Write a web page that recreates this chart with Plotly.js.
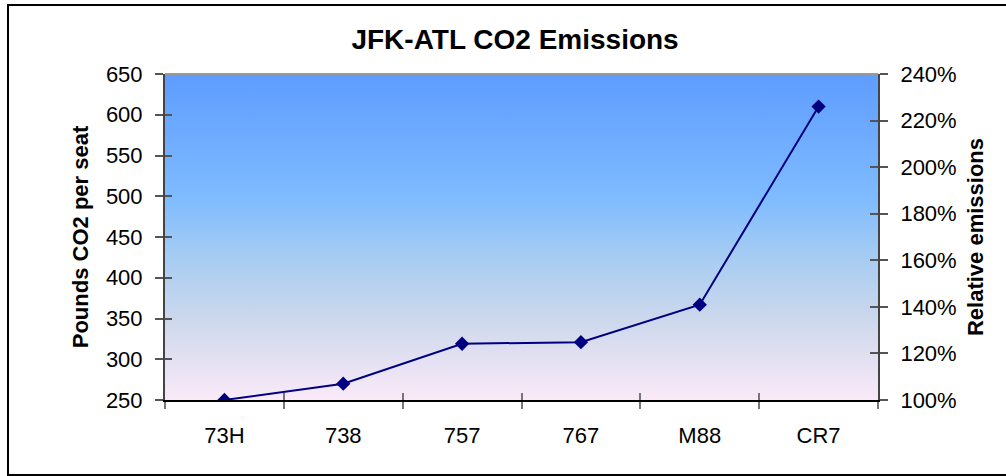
<!DOCTYPE html>
<html>
<head>
<meta charset="utf-8">
<script src="https://cdn.plot.ly/plotly-3.0.1.min.js"></script>
<style>
  html, body { margin: 0; padding: 0; background: #fff; overflow: hidden; }
  #chart { position: absolute; left: 0; top: 0; width: 1006px; height: 476px; }
  #frame { position: absolute; left: 7px; top: 4px; width: 1010px; height: 468px;
           border: 2px solid #000; pointer-events: none; box-sizing: content-box; }
</style>
</head>
<body>
<div id="chart"></div>
<div id="frame"></div>
<script>
// ---- data ----
const aircraft = ["73H", "738", "757", "767", "M88", "CR7"];
const poundsCO2PerSeat = [250, 270, 319, 321, 367, 610];
const leftTicks = [250, 300, 350, 400, 450, 500, 550, 600, 650];
const rightTicks = [100, 120, 140, 160, 180, 200, 220, 240];

const relativeEmissions = poundsCO2PerSeat.map(v => v / poundsCO2PerSeat[0] * 100);

const FONT = "Liberation Sans, Arial, sans-serif";
const tickFont = {family: FONT, size: 22, color: "#000"};
const axisTitleFont = {family: FONT, size: 22, color: "#000", weight: "bold"};

const gradSvg =
  '<svg xmlns="http://www.w3.org/2000/svg" width="100" height="100" preserveAspectRatio="none">' +
  '<defs><linearGradient id="g" x1="0" y1="0" x2="0" y2="1">' +
  '<stop offset="0" stop-color="rgb(94,156,255)"/>' +
  '<stop offset="0.38" stop-color="rgb(127,187,255)"/>' +
  '<stop offset="0.56" stop-color="rgb(166,204,242)"/>' +
  '<stop offset="0.76" stop-color="rgb(206,216,236)"/>' +
  '<stop offset="1" stop-color="rgb(250,234,248)"/>' +
  '</linearGradient></defs><rect width="100" height="100" fill="url(#g)"/></svg>';
const gradUri = "data:image/svg+xml;charset=utf-8," + encodeURIComponent(gradSvg);

const traces = [
  {
    x: aircraft, y: poundsCO2PerSeat, xaxis: "x", yaxis: "y",
    type: "scatter", mode: "lines+markers",
    line: {color: "#000080", width: 2},
    marker: {symbol: "diamond", size: 11, color: "#000080"},
    hoverinfo: "x+y", showlegend: false
  },
  {
    x: aircraft, y: relativeEmissions, xaxis: "x", yaxis: "y2",
    type: "scatter", mode: "markers", marker: {opacity: 0},
    hoverinfo: "skip", showlegend: false
  },
  {
    x: aircraft, y: poundsCO2PerSeat, xaxis: "x2", yaxis: "y3",
    type: "scatter", mode: "markers", marker: {opacity: 0},
    hoverinfo: "skip", showlegend: false
  },
  {
    x: aircraft, y: relativeEmissions, xaxis: "x", yaxis: "y4",
    type: "scatter", mode: "markers", marker: {opacity: 0},
    hoverinfo: "skip", showlegend: false
  }
];

const catRange = [-0.5, aircraft.length - 0.5];

const layout = {
  width: 1006, height: 476,
  margin: {l: 165, r: 128, t: 74, b: 76},
  paper_bgcolor: "rgba(0,0,0,0)",
  plot_bgcolor: "rgba(0,0,0,0)",
  font: {family: FONT, color: "#000"},
  showlegend: false,
  title: {
    text: "JFK-ATL CO2 Emissions",
    font: {family: FONT, size: 28, color: "#000", weight: "bold"},
    xref: "container", x: 0.512, xanchor: "center",
    yref: "container", y: 0.917, yanchor: "middle"
  },
  xaxis: {
    type: "category", range: catRange, categoryorder: "array", categoryarray: aircraft,
    showgrid: false, zeroline: false,
    showline: true, linecolor: "#000", linewidth: 2,
    ticks: "outside", ticklen: 7, tickwidth: 2, tickcolor: "#777",
    tickson: "boundaries", tickfont: tickFont, ticklabelstandoff: 15,
    fixedrange: true
  },
  xaxis2: {
    type: "category", range: catRange, categoryorder: "array", categoryarray: aircraft,
    overlaying: "x", anchor: "y", side: "bottom",
    showgrid: false, zeroline: false, showline: false, showticklabels: false,
    ticks: "inside", ticklen: 7, tickwidth: 2, tickcolor: "#777",
    tickson: "boundaries", fixedrange: true
  },
  yaxis: {
    range: [250, 650], tickvals: leftTicks, ticktext: leftTicks.map(String),
    showgrid: false, zeroline: false,
    showline: true, linecolor: "#444", linewidth: 2,
    ticks: "outside", ticklen: 8, tickwidth: 2, tickcolor: "#555",
    tickfont: tickFont, ticklabelstandoff: 8,
    title: {text: "Pounds CO2 per seat", font: axisTitleFont, standoff: 11},
    fixedrange: true
  },
  yaxis2: {
    range: [100, 240], tickvals: rightTicks, ticktext: rightTicks.map(v => v + "%"),
    overlaying: "y", side: "right", anchor: "x",
    showgrid: false, zeroline: false,
    showline: true, linecolor: "#444", linewidth: 2,
    ticks: "outside", ticklen: 8, tickwidth: 2, tickcolor: "#555",
    tickfont: tickFont, ticklabelstandoff: 8,
    title: {text: "Relative emissions", font: axisTitleFont, standoff: 12},
    fixedrange: true
  },
  yaxis3: {
    range: [250, 650], tickvals: leftTicks, overlaying: "y", side: "left", anchor: "x2",
    showgrid: false, zeroline: false, showline: false, showticklabels: false,
    ticks: "inside", ticklen: 7, tickwidth: 2, tickcolor: "#555", fixedrange: true
  },
  yaxis4: {
    range: [100, 240], tickvals: rightTicks, overlaying: "y", side: "right", anchor: "x",
    showgrid: false, zeroline: false, showline: false, showticklabels: false,
    ticks: "inside", ticklen: 8, tickwidth: 2, tickcolor: "#555", fixedrange: true
  },
  images: [{
    source: gradUri, xref: "paper", yref: "paper",
    x: 0, y: 1, sizex: 1, sizey: 1, xanchor: "left", yanchor: "top",
    sizing: "stretch", layer: "below"
  }],
  shapes: [{
    type: "line", xref: "paper", yref: "paper", x0: 0, x1: 1, y0: 1, y1: 1,
    line: {color: "#999", width: 2}, layer: "above"
  }]
};

Plotly.newPlot("chart", traces, layout, {displayModeBar: false, staticPlot: true});
</script>
</body>
</html>
